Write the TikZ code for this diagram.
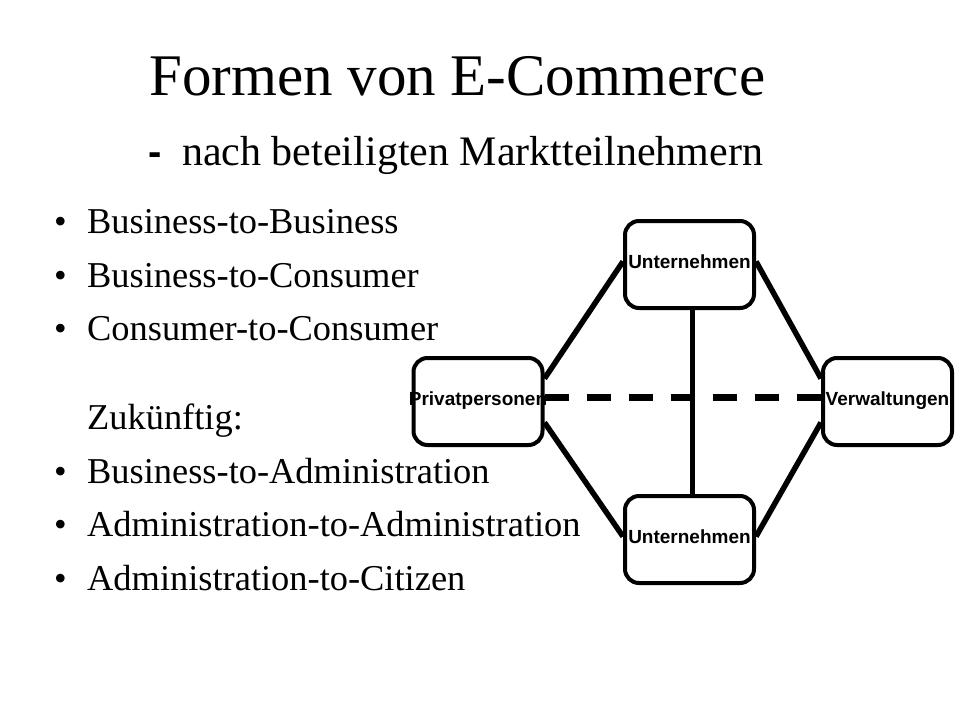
\documentclass[tikz,border=0pt]{standalone}
\usepackage{fontspec}
\setmainfont{Liberation Serif}
\newfontfamily\arialfont{Liberation Sans}
\begin{document}
\begin{tikzpicture}[x=1pt,y=-1pt,
  box/.style={draw=black, line width=4pt, rounded corners=14pt, minimum width=129pt, minimum height=87pt, inner sep=0pt},
  lbl/.style={font=\arialfont\bfseries\fontsize{19}{20}\selectfont, inner sep=0pt, anchor=base},
  conn/.style={line width=5.5pt},
  dashconn/.style={line width=7pt, dash pattern=on 24pt off 18pt},
  bul/.style={font=\fontsize{36}{40}\selectfont, inner sep=0pt, anchor=base west},
  txt/.style={font=\fontsize{36.4}{40}\selectfont, inner sep=0pt, anchor=base west}]
\useasboundingbox[fill=white] (0,0) rectangle (960,720);

% title
\node[font=\fontsize{59}{64}\selectfont, inner sep=0pt, anchor=base west] (title) at (149,95) {Formen von E-Commerce};
\node[font=\arialfont\bfseries\fontsize{40}{46}\selectfont, inner sep=0pt, anchor=base west] (dash) at (148,165) {-};
\node[font=\fontsize{42}{46}\selectfont, inner sep=0pt, anchor=base west] (subtitle) at (182,165) {nach beteiligten Marktteilnehmern};

% bullet list
\foreach \y/\t [count=\i] in {233/Business-to-Business, 287/Business-to-Consumer, 340/Consumer-to-Consumer, 483/Business-to-Administration, 536/Administration-to-Administration, 590/Administration-to-Citizen}{
  \node[bul] (b\i) at (54,\y) {\textbullet};
  \node[txt] (t\i) at (87,\y) {\t};
}
\node[txt] (zuk) at (87,429) {Zukünftig:};

% labels (drawn first, so that box borders lie on top)
\coordinate (u1c) at (689.5,264.5);
\coordinate (ppc) at (478,401.5);
\coordinate (vwc) at (887.5,401.5);
\coordinate (u2c) at (689.5,539.5);
\node[lbl] (u1t) at ([yshift=-4pt]u1c) {Unternehmen};
\node[lbl] (ppt) at ([yshift=-4pt]ppc) {Privatpersonen};
\node[lbl] (vwt) at ([yshift=-4pt]vwc) {Verwaltungen};
\node[lbl] (u2t) at ([yshift=-4pt]u2c) {Unternehmen};

% boxes
\node[box] (u1) at (u1c) {};
\node[box] (pp) at (ppc) {};
\node[box] (vw) at (vwc) {};
\node[box] (u2) at (u2c) {};

% connectors
\draw[conn] ([yshift=23pt]pp.east) -- ([yshift=3pt]u1.west);
\draw[conn] ([yshift=3pt]u1.east) -- ([yshift=23pt]vw.west);
\draw[conn] ([yshift=-21pt]pp.east) -- ([yshift=3pt]u2.west);
\draw[conn] ([yshift=3pt]u2.east) -- ([yshift=-21pt]vw.west);
\draw[line width=5pt] ([xshift=3pt]u1.south) -- ([xshift=3pt]u2.north);
\draw[dashconn] ([yshift=4.5pt]pp.east) -- ([yshift=4.5pt]vw.west);
\end{tikzpicture}
\end{document}
